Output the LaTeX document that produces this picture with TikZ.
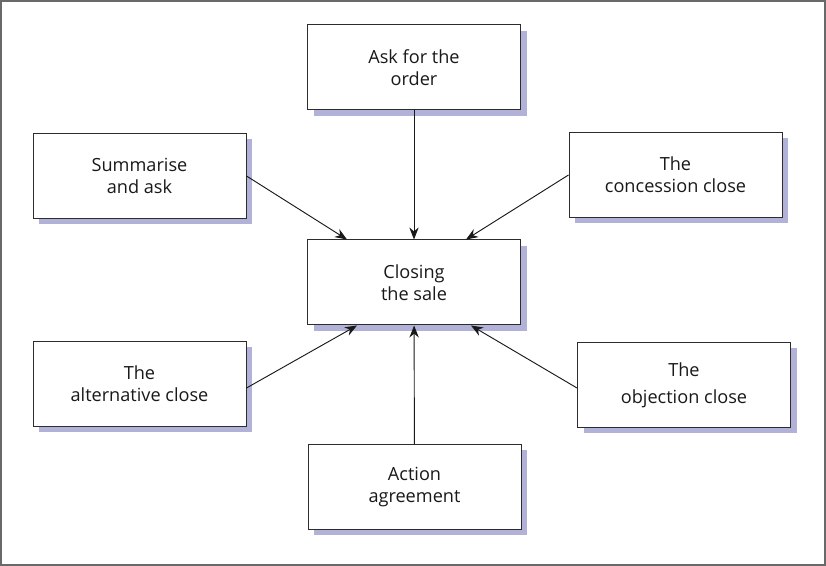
\documentclass[tikz,border=0pt]{standalone}
\usepackage{fontspec}
\setmainfont{Open Sans}
\usetikzlibrary{arrows.meta,shadows,calc}
\definecolor{shadowcol}{RGB}{178,178,216}
\definecolor{framecol}{RGB}{105,105,105}
\definecolor{edgecol}{RGB}{45,45,45}
\tikzset{
  box/.style={draw=edgecol, line width=0.75pt, fill=white, align=center,
    minimum width=159.75pt, minimum height=63.75pt, inner sep=2pt,
    font=\fontsize{13.6}{16.8}\selectfont, text=black!90,
    drop shadow={shadow xshift=4.5pt, shadow yshift=-4.5pt, fill=shadowcol, opacity=1}},
  conn/.style={draw=black!90, line width=0.7pt, -{Stealth[length=9pt,width=7pt]}}
}
\begin{document}
\begin{tikzpicture}[x=0.75pt,y=-0.75pt]
\useasboundingbox (0,0) rectangle (826,566);
\draw[framecol, line width=1.5pt] (1,1) rectangle (825,565);
\node[box] (ask) at (414,67.5) {Ask for the\\order};
\node[box] (sum) at (139.5,176) {Summarise\\and ask};
\node[box] (con) at (675.5,175) {The\\concession close};
\node[box] (cls) at (414,282.5) {Closing\\the sale};
\node[box] (alt) at (139.5,384) {The\\alternative close};
\node[box] (obj) at (684,385) {The\\[3.5pt]objection close};
\node[box] (act) at (414.5,487) {Action\\agreement};
\draw[conn] (ask) -- (cls);
\draw[conn] (sum.east) -- ($(cls.north west)+(40,0)$);
\draw[conn] (con.west) -- ($(cls.north east)+(-55,0)$);
\draw[conn] ($(alt.east)+(0,4)$) -- ($(cls.south west)+(50,0)$);
\draw[conn] ($(obj.west)+(0,3)$) -- ($(cls.south east)+(-50,0)$);
\draw[conn] (act) -- (cls);
\end{tikzpicture}
\end{document}
